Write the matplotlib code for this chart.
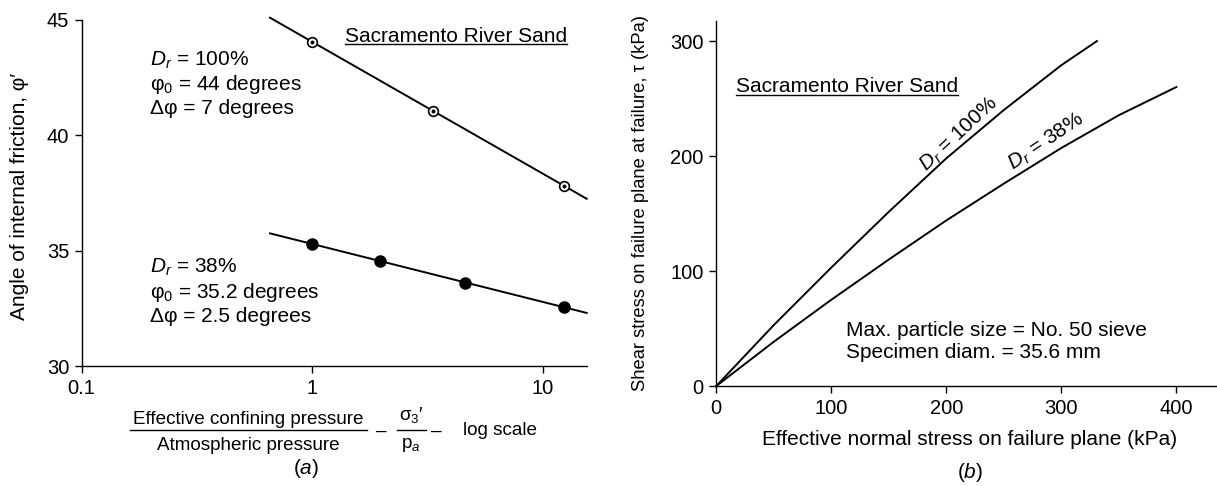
import numpy as np
import matplotlib
matplotlib.use("Agg")
import matplotlib.pyplot as plt
from matplotlib.lines import Line2D

plt.rcParams['font.family'] = ['Liberation Sans', 'DejaVu Sans']
plt.rcParams['mathtext.fontset'] = 'custom'
plt.rcParams['mathtext.rm'] = 'Liberation Sans'
plt.rcParams['mathtext.it'] = 'Liberation Sans:italic'
plt.rcParams['mathtext.bf'] = 'Liberation Sans:bold'

# (a) friction angle vs confining pressure (log scale)
dense_x = [1.0, 3.33, 12.4]
dense_phi = [44.06, 41.05, 37.8]
dense_line_x = [0.656, 15.5]
dense_line_phi = [45.1, 37.25]

loose_x = [1.0, 1.96, 4.6, 12.4]
loose_phi = [35.29, 34.55, 33.58, 32.56]
loose_line_x = [0.656, 15.5]
loose_line_phi = [35.75, 32.3]

# (b) failure envelopes
sigma_100 = [0, 50, 100, 150, 200, 250, 300, 331]
tau_100 = [0, 53, 103, 151.5, 198, 240, 279, 300]
sigma_38 = [0, 50, 100, 150, 200, 250, 300, 350, 400]
tau_38 = [0, 38.5, 75, 110, 144, 176, 207, 235.5, 260]

W, H = 1217, 486
fig = plt.figure(figsize=(W / 100, H / 100), dpi=100)


def fx(px):
    return px / W


def fy(py):
    return 1 - py / H


def style_axes(ax):
    ax.spines['top'].set_visible(False)
    ax.spines['right'].set_visible(False)
    for s in ['left', 'bottom']:
        ax.spines[s].set_linewidth(1.0)
    ax.tick_params(direction='out', length=5, width=1.0, labelsize=14.5, pad=4)


# ---------- panel (a) ----------
ax1 = fig.add_axes([fx(81.6), fy(366), fx(586.7) - fx(81.6), fy(20) - fy(366)])
style_axes(ax1)
ax1.set_xscale('log')
ax1.set_xlim(0.1, 15.5)
ax1.set_ylim(30, 45)
ax1.set_xticks([0.1, 1, 10])
ax1.set_xticklabels(['0.1', '1', '10'])
ax1.xaxis.set_minor_locator(matplotlib.ticker.NullLocator())
ax1.set_yticks([30, 35, 40, 45])

ax1.plot(dense_line_x, dense_line_phi, color='black', lw=1.4, clip_on=False)
ax1.plot(loose_line_x, loose_line_phi, color='black', lw=1.4, clip_on=False)
ax1.plot(dense_x, dense_phi, 'o', ms=7, mfc='white', mec='black', mew=1.2, clip_on=False)
ax1.plot(dense_x, dense_phi, 'o', ms=1.8, color='black', clip_on=False)
ax1.plot(loose_x, loose_phi, 'o', ms=8, color='black', clip_on=False)

ax1.set_ylabel('Angle of internal friction, φ′', fontsize=15)
ax1.yaxis.set_label_coords(-0.104, 0.49)

txt = dict(fontsize=15, ha='left', va='center')
fig.text(fx(150), fy(60), '$D_r$ = 100%', **txt)
fig.text(fx(150), fy(84), 'φ$_0$ = 44 degrees', **txt)
fig.text(fx(150), fy(108), 'Δφ = 7 degrees', **txt)
fig.text(fx(150), fy(267), '$D_r$ = 38%', **txt)
fig.text(fx(150), fy(292), 'φ$_0$ = 35.2 degrees', **txt)
fig.text(fx(150), fy(317), 'Δφ = 2.5 degrees', **txt)
title_a = fig.text(fx(345), fy(36), 'Sacramento River Sand', **txt)

# composite x label for (a)
lab = dict(fontsize=13.6, ha='center', va='center')
fig.text(fx(248.7), fy(420), 'Effective confining pressure', **lab)
fig.text(fx(248.7), fy(445), 'Atmospheric pressure', **lab)
fig.add_artist(Line2D([fx(130), fx(367)], [fy(430), fy(430)], color='black', lw=1.0))
fig.text(fx(381), fy(431), '–', **lab)
fig.text(fx(411), fy(415), 'σ$_3$′', **lab)
fig.text(fx(411), fy(445), 'p$_a$', **lab)
fig.add_artist(Line2D([fx(397), fx(426)], [fy(430), fy(430)], color='black', lw=1.0))
fig.text(fx(436), fy(431), '–', **lab)
fig.text(fx(463), fy(430), 'log scale', fontsize=13.6, ha='left', va='center')
fig.text(fx(306), fy(468), '($a$)', fontsize=15, ha='center', va='center')

# ---------- panel (b) ----------
ax2 = fig.add_axes([fx(716.3), fy(386), fx(1216) - fx(716.3), fy(20.7) - fy(386)])
style_axes(ax2)
ax2.set_xlim(0, 434.5)
ax2.set_ylim(0, 317.7)
ax2.set_xticks([0, 100, 200, 300, 400])
ax2.set_yticks([0, 100, 200, 300])

ax2.plot(sigma_100, tau_100, color='black', lw=1.4, clip_on=False)
ax2.plot(sigma_38, tau_38, color='black', lw=1.4, clip_on=False)

ax2.set_xlabel('Effective normal stress on failure plane (kPa)', fontsize=15)
ax2.xaxis.set_label_coords(0.506, -0.12)
ax2.set_ylabel('Shear stress on failure plane at failure, τ (kPa)', fontsize=13.2)
ax2.yaxis.set_label_coords(-0.135, 0.5)

title_b = fig.text(fx(736), fy(87), 'Sacramento River Sand', **txt)
fig.text(fx(846), fy(330), 'Max. particle size = No. 50 sieve', **txt)
fig.text(fx(846), fy(352), 'Specimen diam. = 35.6 mm', **txt)
fig.text(fx(959), fy(134), '$D_r$ = 100%', fontsize=15, ha='center', va='center', rotation=43)
fig.text(fx(1046), fy(142), '$D_r$ = 38%', fontsize=15, ha='center', va='center', rotation=34)
fig.text(fx(970), fy(472), '($b$)', fontsize=15, ha='center', va='center')

# underline the two titles
fig.canvas.draw()
for t in [title_a, title_b]:
    bb = t.get_window_extent()
    yline = bb.y0 + 1
    fig.add_artist(Line2D([bb.x0 / W, bb.x1 / W], [yline / H, yline / H], color='black', lw=1.0))

fig.savefig('out.png', dpi=100)
